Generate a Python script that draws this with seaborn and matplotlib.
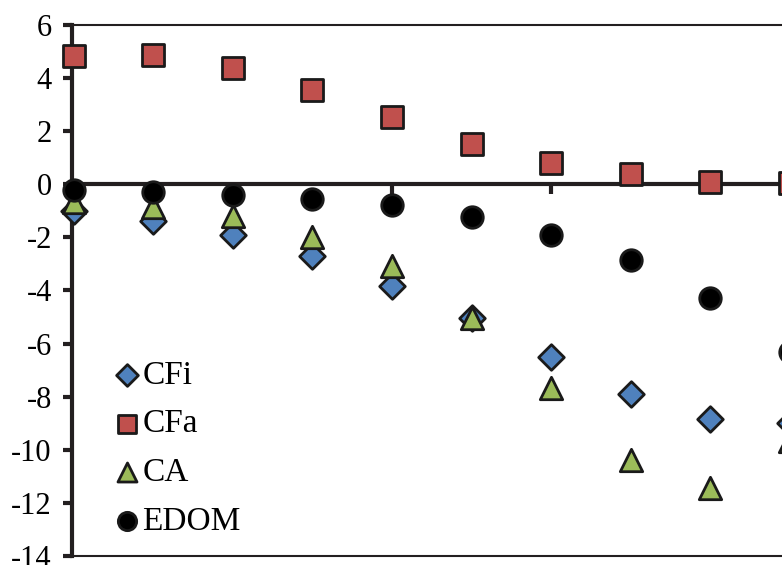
import numpy as np
import pandas as pd
import matplotlib
matplotlib.use("Agg")
import matplotlib.pyplot as plt
import seaborn as sns

# Set style and font
sns.set_style("white")
plt.rcParams['font.family'] = ['Liberation Serif', 'DejaVu Serif']
plt.rcParams['axes.unicode_minus'] = False
plt.rcParams['text.color'] = 'black'
plt.rcParams['ytick.labelcolor'] = 'black'

# Data (10 points per series)
step = list(range(10))
cfi = [-1.0, -1.37, -1.91, -2.7, -3.82, -5.05, -6.49, -7.91, -8.85, -9.0]
cfa = [4.85, 4.86, 4.39, 3.55, 2.52, 1.51, 0.80, 0.38, 0.10, 0.06]
ca = [-0.65, -0.87, -1.19, -1.98, -3.08, -5.04, -7.67, -10.38, -11.44, -9.68]
edom = [-0.21, -0.29, -0.40, -0.57, -0.78, -1.22, -1.91, -2.85, -4.29, -6.30]

series = ["CFi", "CFa", "CA", "EDOM"]
values = [cfi, cfa, ca, edom]
colors = {"CFi": "#4F81BD", "CFa": "#C0504D", "CA": "#9BBB59", "EDOM": "#000000"}
markers = {"CFi": "D", "CFa": "s", "CA": "^", "EDOM": "o"}
sizes = {"CFi": 170, "CFa": 250, "CA": 260, "EDOM": 240}

df = pd.DataFrame({
    "step": step * len(series),
    "value": sum(values, []),
    "series": np.repeat(series, len(step)),
})

fig = plt.figure(figsize=(7.82, 5.65), dpi=100)
ax = fig.add_axes([72 / 782, 1 - 556 / 565, 797.5 / 782, 531 / 565])

for name in series:
    sub = df[df["series"] == name]
    sns.scatterplot(data=sub, x="step", y="value", ax=ax, color=colors[name],
                    marker=markers[name], s=sizes[name], edgecolor="#1a1a1a",
                    linewidth=2, label=name, zorder=3, clip_on=False)

ax.set_xlim(-0.02, 10)
ax.set_ylim(-14, 6)
ax.set_yticks(range(-14, 7, 2))
ax.set_xticks(range(0, 10, 2))
ax.set_xticklabels([])
ax.set_xlabel("")
ax.set_ylabel("")

# x axis runs along zero
ax.spines['bottom'].set_position(('data', 0))
ax.spines['bottom'].set_linewidth(3)
ax.spines['left'].set_linewidth(3)
ax.spines['top'].set_linewidth(1.5)
ax.spines['right'].set_visible(False)
for sp in ax.spines.values():
    sp.set_color("#231f20")
ax.axhline(-14, color="#231f20", lw=1.5, zorder=1, clip_on=False)

ax.tick_params(axis='y', direction='out', length=6.5, width=3, color="#231f20",
               labelsize=22, pad=8, left=True, labelcolor='black')
ax.tick_params(axis='x', direction='out', length=7, width=3, color="#231f20",
               bottom=True)
ax.grid(False)

leg = ax.legend(loc="upper left", bbox_to_anchor=(114 / 782, 1 - 360 / 565),
                bbox_transform=fig.transFigure, frameon=False, fontsize=24,
                handlelength=0.8, handletextpad=0.05, labelspacing=0.55,
                borderpad=0, borderaxespad=0, markerscale=0.85)
for t in leg.get_texts():
    t.set_color('black')

plt.savefig("out.png", dpi=100)
plt.close()
